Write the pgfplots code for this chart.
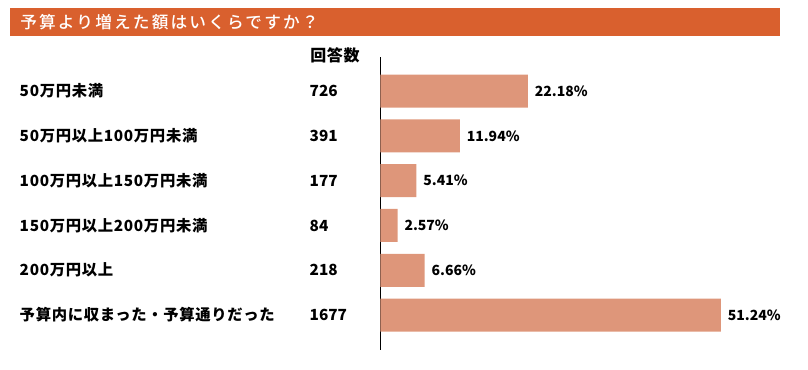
\documentclass[border=0pt]{standalone}
\usepackage{pgfplots}
\pgfplotsset{compat=1.18}
\usepackage{fontspec}
\setmainfont{Noto Sans CJK JP}
\newfontfamily\jptitle{Noto Sans CJK JP}[LetterSpace=13, UprightFont={* Medium}]
\newfontfamily\jplab{Noto Sans CJK JP}[LetterSpace=4.5]
\newfontfamily\jpnum{Noto Sans CJK JP}
\definecolor{titlebar}{HTML}{D9602E}
\definecolor{barc}{HTML}{DE967A}
\newcommand{\lab}[2]{\makebox[217.5pt][l]{\jplab\bfseries #1}\makebox[52.875pt][l]{\jpnum\bfseries #2}}
\begin{document}
\begin{tikzpicture}
\path (0,0) rectangle (606pt,-276.75pt);
\fill[titlebar] (7.5pt,-6pt) rectangle (585pt,-27pt);
\node[anchor=west, text=white, font=\jptitle\fontsize{12.5pt}{15pt}\selectfont, inner sep=0] at (15pt,-16.5pt) {予算より増えた額はいくらですか？};
\node[anchor=west, font=\jplab\bfseries\fontsize{12pt}{14pt}\selectfont, inner sep=0] at (232.5pt,-41.25pt) {回答数};
\begin{axis}[
  at={(285.375pt,-262.5pt)}, anchor=south west,
  scale only axis, width=299pt, height=219.75pt,
  xmin=0, xmax=60, ymin=-0.76, ymax=5.78, y dir=reverse,
  xbar, bar width=24.75pt,
  axis y line*=left, axis x line=none,
  axis line style={line width=0.75pt},
  ytick={0,1,2,3,4,5},
  yticklabels={
    \lab{50万円未満}{726},
    \lab{50万円以上100万円未満}{391},
    \lab{100万円以上150万円未満}{177},
    \lab{150万円以上200万円未満}{84},
    \lab{200万円以上}{218},
    \lab{予算内に収まった・予算通りだった}{1677}},
  major tick length=0pt,
  yticklabel style={anchor=east, inner sep=0pt, font=\fontsize{11.5pt}{14pt}\selectfont},
  point meta=x,
  nodes near coords={\pgfmathprintnumber[fixed,fixed zerofill,precision=2,assume math mode=true]{\pgfplotspointmeta}\%},
  every node near coord/.append style={anchor=west, xshift=5pt, inner sep=0pt, font=\jpnum\bfseries\fontsize{10.5pt}{13pt}\selectfont},
  clip=false,
]
\addplot[fill=barc, draw=none] coordinates {(22.18,0) (11.94,1) (5.41,2) (2.57,3) (6.66,4) (51.24,5)};
\end{axis}
\end{tikzpicture}
\end{document}
